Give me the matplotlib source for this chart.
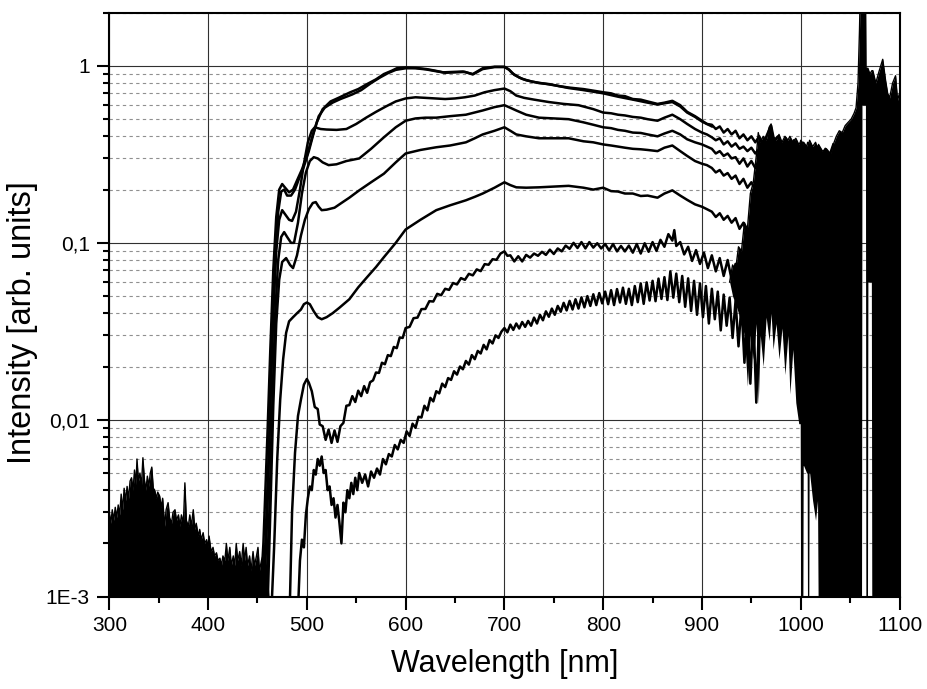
import matplotlib
matplotlib.use("Agg")
import matplotlib.pyplot as plt
from matplotlib.ticker import FixedLocator, FixedFormatter, MultipleLocator, LogLocator, NullFormatter

plt.rcParams['font.family'] = ['Liberation Sans', 'DejaVu Sans']

# noise floor below ~460 nm (upper edge of the black band)
bg_wl = [300, 301.5, 303, 304.5, 306, 307.5, 309, 310.5, 312, 313.5, 315, 316.5, 318, 319.5, 321, 322.5,
         324, 325.5, 327, 328, 329.5, 331, 332.5, 334, 335.5, 337, 338.5, 340, 341.5, 343, 344.5, 346,
         347.5, 349, 351, 352.5, 354, 356, 357.5, 359.5, 361, 363, 364.5, 366.5, 368, 370, 371.5, 373,
         375, 376.5, 378, 380, 381.5, 383, 385, 386.5, 388, 390, 391.5, 393, 395, 396.5, 398.5, 400,
         401, 403, 405, 406.5, 408.5, 410, 412, 413.5, 415, 417, 418.5, 420, 422, 423.5, 425.5, 427,
         428.5, 430, 432, 433.5, 435.5, 437, 438.5, 440, 442, 443.5, 445.5, 447, 449, 450.5, 452, 454,
         455.5, 457, 459, 460.5, 462]
bg_top = [0.0030, 0.0026, 0.0031, 0.0027, 0.0032, 0.0028, 0.0033, 0.0029, 0.0038, 0.0031, 0.0041, 0.0035,
          0.0042, 0.0036, 0.0045, 0.0047, 0.0040, 0.0052, 0.0043, 0.0060, 0.0045, 0.0050, 0.0042, 0.0061,
          0.0046, 0.0040, 0.0048, 0.0042, 0.0050, 0.0054, 0.0041, 0.0040, 0.0036, 0.0039, 0.0037, 0.0032,
          0.0036, 0.0025, 0.0031, 0.0034, 0.0028, 0.0026, 0.0030, 0.0031, 0.0027, 0.0029, 0.0025, 0.0029,
          0.0026, 0.0044, 0.0027, 0.0025, 0.0029, 0.0025, 0.0031, 0.0024, 0.0026, 0.0022, 0.0024, 0.0021,
          0.0023, 0.0020, 0.0021, 0.0019, 0.0022, 0.0018, 0.0019, 0.0017, 0.00177, 0.0016, 0.00165, 0.0015,
          0.0017, 0.0016, 0.0020, 0.0016, 0.0019, 0.0015, 0.0017, 0.0015, 0.0020, 0.0016, 0.0018, 0.0015,
          0.0020, 0.0016, 0.0019, 0.0015, 0.0017, 0.0014, 0.0018, 0.0015, 0.0017, 0.0019, 0.0014, 0.0016,
          0.0017, 0.0013, 0.0015, 0.0012, 0.0009]

# noisy region above ~930 nm (top and bottom edges of the black band)
band_wl = [928, 931, 934, 937, 940, 943, 946, 949, 952, 955, 957, 959, 962, 965, 968, 970, 972, 975, 978,
           981, 984, 987, 989, 992, 995, 998, 999.5, 1000, 1002, 1002.5, 1003, 1006, 1006.5, 1007, 1008,
           1008.5, 1009, 1012, 1015, 1017, 1018, 1022, 1026, 1030, 1033, 1036, 1039, 1042, 1045, 1048, 1051,
           1054, 1056, 1058, 1059.5, 1060.5, 1061.5, 1062, 1065.5, 1066, 1067.5, 1068, 1070, 1071.5, 1072,
           1073, 1076, 1079, 1083, 1086, 1088, 1090, 1093, 1096, 1098, 1100]
band_top = [0.06, 0.075, 0.07, 0.095, 0.09, 0.13, 0.12, 0.19, 0.22, 0.31, 0.42, 0.37, 0.40, 0.38, 0.45,
            0.47, 0.40, 0.38, 0.41, 0.37, 0.40, 0.38, 0.40, 0.37, 0.39, 0.36, 0.37, 0.38, 0.36, 0.37, 0.37,
            0.35, 0.36, 0.37, 0.36, 0.37, 0.38, 0.35, 0.37, 0.34, 0.36, 0.33, 0.34, 0.32, 0.36, 0.40, 0.43,
            0.42, 0.46, 0.48, 0.50, 0.54, 0.58, 0.80, 1.6, 3.0, 3.0, 3.0, 3.0, 0.97, 0.97, 0.97, 0.90, 0.93,
            0.94, 0.94, 0.80, 0.92, 1.09, 0.82, 0.70, 0.66, 0.80, 0.88, 0.64, 0.70]
band_bot = [0.06, 0.05, 0.045, 0.04, 0.035, 0.030, 0.0155, 0.030, 0.022, 0.035, 0.0123, 0.030, 0.020,
            0.038, 0.028, 0.040, 0.025, 0.035, 0.022, 0.033, 0.018, 0.030, 0.0140, 0.025, 0.0125, 0.0095,
            0.0095, 0.0004, 0.0004, 0.0055, 0.0055, 0.0050, 0.0050, 0.0004, 0.0004, 0.0050, 0.0050, 0.0035,
            0.0027, 0.0035, 0.0004, 0.0004, 0.0004, 0.0004, 0.0004, 0.0004, 0.0004, 0.0004, 0.0004, 0.0004,
            0.0004, 0.0004, 0.0004, 0.0004, 0.0004, 0.0004, 0.0004, 0.60, 0.60, 0.0004, 0.0004, 0.06, 0.06,
            0.06, 0.0004, 0.0004, 0.0004, 0.0004, 0.0004, 0.0004, 0.0004, 0.0004, 0.0004, 0.0004, 0.0004,
            0.0004]

# spectra, top to bottom
a_wl = [452, 456, 460, 463, 466, 469, 472, 475, 478, 482, 486, 490, 495, 500, 505, 510, 516, 524, 532, 544,
        552, 561, 570, 578, 586, 591, 600, 610, 621, 630, 638, 648, 658, 668, 678, 690, 700, 704, 708, 715,
        722, 735, 745, 755, 765, 780, 790, 800, 808, 815, 822, 830, 838, 845, 855, 862, 870, 878, 885, 893,
        900, 905, 910, 914, 918, 922, 926, 930, 934, 938, 942, 946, 950, 954, 958, 962, 966, 970, 973, 977,
        981, 985, 989, 993, 997, 1001, 1005, 1009, 1013, 1017, 1021, 1025, 1029, 1033]
a_val = [0.0008, 0.002, 0.008, 0.025, 0.07, 0.14, 0.20, 0.215, 0.205, 0.193, 0.20, 0.225, 0.26, 0.31, 0.39,
         0.48, 0.57, 0.63, 0.66, 0.71, 0.74, 0.79, 0.84, 0.90, 0.94, 0.97, 0.98, 0.975, 0.96, 0.94, 0.92,
         0.925, 0.93, 0.90, 0.97, 0.99, 0.99, 0.96, 0.91, 0.86, 0.83, 0.80, 0.79, 0.77, 0.755, 0.74, 0.725,
         0.71, 0.70, 0.68, 0.675, 0.65, 0.645, 0.63, 0.61, 0.62, 0.635, 0.60, 0.55, 0.52, 0.49, 0.47, 0.465,
         0.44, 0.455, 0.42, 0.44, 0.41, 0.43, 0.39, 0.41, 0.38, 0.40, 0.37, 0.40, 0.36, 0.41, 0.46, 0.38,
         0.40, 0.35, 0.39, 0.34, 0.38, 0.33, 0.37, 0.32, 0.36, 0.31, 0.35, 0.30, 0.34, 0.31, 0.36]

b_wl = [454, 458, 462, 465, 468, 471, 474, 477, 480, 484, 488, 492, 497, 502, 507, 512, 518, 526, 534, 546,
        555, 565, 574, 582, 590, 600, 610, 621, 630, 640, 650, 660, 668, 678, 690, 700, 705, 710, 718, 728,
        740, 752, 765, 780, 800, 815, 830, 845, 855, 862, 870, 878, 885, 893, 900, 910]
b_val = [0.0008, 0.002, 0.008, 0.03, 0.08, 0.15, 0.195, 0.20, 0.185, 0.185, 0.20, 0.23, 0.27, 0.33, 0.42,
         0.52, 0.58, 0.62, 0.65, 0.69, 0.73, 0.80, 0.86, 0.91, 0.95, 0.97, 0.97, 0.955, 0.935, 0.915, 0.92,
         0.925, 0.895, 0.96, 0.985, 0.985, 0.95, 0.89, 0.845, 0.815, 0.795, 0.775, 0.75, 0.73, 0.70, 0.67,
         0.645, 0.62, 0.605, 0.615, 0.625, 0.59, 0.545, 0.515, 0.485, 0.455]

c_wl = [456, 460, 463, 466, 469, 472, 475, 478, 482, 485, 489, 493, 497, 501, 505, 508, 514, 520, 530, 540,
        550, 560, 570, 580, 590, 600, 610, 620, 630, 640, 650, 660, 670, 680, 690, 700, 706, 712, 720, 730,
        745, 760, 775, 790, 800, 808, 815, 822, 830, 838, 845, 855, 862, 870, 878, 885, 893, 900, 905, 910,
        914, 918, 922, 926, 930, 934, 938, 942, 946, 950, 954, 958, 962, 966, 970, 974, 978, 982, 986, 990,
        994, 998, 1002]
c_val = [0.0008, 0.003, 0.012, 0.04, 0.09, 0.135, 0.153, 0.145, 0.135, 0.133, 0.15, 0.20, 0.28, 0.37, 0.43,
         0.45, 0.44, 0.437, 0.435, 0.44, 0.47, 0.51, 0.55, 0.59, 0.63, 0.655, 0.665, 0.66, 0.655, 0.65,
         0.655, 0.665, 0.68, 0.71, 0.73, 0.745, 0.72, 0.68, 0.66, 0.645, 0.625, 0.61, 0.60, 0.57, 0.545,
         0.54, 0.53, 0.525, 0.515, 0.51, 0.50, 0.49, 0.51, 0.53, 0.50, 0.47, 0.44, 0.42, 0.41, 0.395, 0.38,
         0.39, 0.36, 0.375, 0.35, 0.365, 0.34, 0.35, 0.33, 0.345, 0.32, 0.34, 0.30, 0.33, 0.29, 0.32, 0.28,
         0.31, 0.27, 0.30, 0.26, 0.29, 0.25]

d_wl = [458, 462, 465, 468, 471, 474, 477, 480, 484, 487, 491, 495, 499, 503, 507, 511, 516, 522, 530, 540,
        553, 565, 578, 590, 600, 610, 620, 631, 645, 661, 678, 690, 700, 706, 712, 722, 735, 750, 765, 780,
        790, 800, 808, 815, 822, 830, 838, 845, 855, 862, 870, 878, 885, 893, 900, 905, 910, 914, 918, 922,
        926, 930, 934, 938, 942, 946, 950, 954, 958, 962, 966, 970, 974, 978, 982, 986, 990, 994, 998]
d_val = [0.0008, 0.003, 0.012, 0.04, 0.08, 0.108, 0.115, 0.108, 0.10, 0.10, 0.13, 0.19, 0.25, 0.29, 0.305,
         0.30, 0.285, 0.275, 0.278, 0.29, 0.30, 0.34, 0.395, 0.45, 0.49, 0.505, 0.51, 0.51, 0.52, 0.53,
         0.56, 0.585, 0.60, 0.58, 0.56, 0.53, 0.51, 0.505, 0.50, 0.48, 0.465, 0.45, 0.445, 0.435, 0.43,
         0.42, 0.418, 0.41, 0.40, 0.415, 0.43, 0.41, 0.385, 0.37, 0.36, 0.35, 0.34, 0.32, 0.33, 0.31, 0.32,
         0.30, 0.305, 0.28, 0.30, 0.27, 0.29, 0.265, 0.28, 0.25, 0.27, 0.235, 0.26, 0.225, 0.25, 0.21, 0.24,
         0.20, 0.23]

e_wl = [460, 463, 466, 469, 472, 475, 479, 483, 486, 490, 494, 498, 502, 506, 509, 512, 515, 520, 528, 535,
        543, 553, 565, 578, 590, 600, 615, 631, 645, 661, 670, 678, 690, 700, 706, 712, 722, 735, 750, 765,
        780, 790, 800, 808, 815, 822, 830, 838, 845, 855, 862, 870, 878, 885, 893, 900, 905, 910, 914, 918,
        922, 926, 930, 934, 938, 942, 946, 950, 954, 958, 962, 966, 970, 974, 978, 982, 986, 990, 994, 998]
e_val = [0.0008, 0.003, 0.012, 0.035, 0.062, 0.078, 0.082, 0.075, 0.072, 0.085, 0.11, 0.135, 0.155, 0.168,
         0.17, 0.16, 0.153, 0.154, 0.158, 0.168, 0.18, 0.198, 0.22, 0.246, 0.285, 0.32, 0.335, 0.347, 0.355,
         0.37, 0.39, 0.41, 0.43, 0.45, 0.43, 0.41, 0.40, 0.39, 0.39, 0.39, 0.375, 0.37, 0.36, 0.355, 0.35,
         0.345, 0.34, 0.338, 0.335, 0.33, 0.345, 0.355, 0.33, 0.31, 0.29, 0.28, 0.275, 0.265, 0.25, 0.258,
         0.24, 0.248, 0.23, 0.24, 0.215, 0.23, 0.205, 0.22, 0.20, 0.215, 0.185, 0.21, 0.17, 0.20, 0.16,
         0.19, 0.15, 0.18, 0.14, 0.17]

f_wl = [464, 467, 470, 473, 476, 479, 482, 486, 490, 494, 497, 500, 503, 507, 511, 515, 520, 526, 533, 543,
        552, 561, 570, 578, 590, 600, 615, 631, 645, 661, 670, 678, 690, 700, 706, 712, 722, 735, 750, 765,
        780, 790, 800, 808, 815, 822, 830, 838, 845, 855, 862, 870, 878, 885, 893, 900, 905, 910, 914, 918,
        922, 926, 930, 934, 938, 942, 946, 950, 954, 958, 962, 966, 970, 974, 978, 982, 986, 990]
f_val = [0.0008, 0.002, 0.006, 0.013, 0.022, 0.031, 0.036, 0.038, 0.040, 0.042, 0.045, 0.046, 0.045, 0.041,
         0.038, 0.037, 0.038, 0.040, 0.043, 0.048, 0.056, 0.064, 0.073, 0.083, 0.10, 0.119, 0.135, 0.153,
         0.163, 0.174, 0.182, 0.19, 0.205, 0.22, 0.212, 0.206, 0.205, 0.206, 0.208, 0.21, 0.205, 0.20,
         0.205, 0.196, 0.195, 0.19, 0.19, 0.184, 0.185, 0.18, 0.19, 0.198, 0.185, 0.175, 0.165, 0.16, 0.155,
         0.15, 0.14, 0.147, 0.135, 0.142, 0.13, 0.138, 0.12, 0.13, 0.11, 0.125, 0.10, 0.115, 0.095, 0.11,
         0.085, 0.105, 0.08, 0.10, 0.07, 0.09]

g_wl = [482, 485, 488, 491, 494, 497, 500, 502, 505, 508, 511, 513, 516, 519, 522, 525, 528, 531, 534, 537,
        540, 543, 546, 549, 552, 555, 558, 561, 564, 567, 570, 573, 576, 579, 582, 585, 588, 591, 594, 597,
        600, 604, 608, 612, 616, 620, 624, 628, 632, 636, 640, 644, 648, 652, 656, 660, 664, 668, 672, 676,
        680, 684, 688, 692, 696, 700, 703, 706, 710, 714, 718, 722, 726, 730, 734, 738, 742, 746, 750, 754,
        758, 762, 766, 770, 774, 778, 782, 786, 790, 794, 798, 802, 806, 810, 814, 818, 822, 826, 830, 834,
        838, 842, 846, 850, 854, 858, 862, 866, 870, 872, 874, 878, 882, 886, 890, 894, 898, 902, 906, 910,
        914, 918, 922, 926, 930, 934, 938, 942, 946, 950]
g_val = [0.0006, 0.003, 0.0065, 0.0105, 0.013, 0.0158, 0.0170, 0.0162, 0.0145, 0.0118, 0.0115, 0.0094,
         0.0092, 0.0077, 0.0088, 0.0074, 0.0087, 0.0075, 0.0092, 0.0096, 0.0120, 0.0121, 0.0136, 0.0126,
         0.0146, 0.0136, 0.0155, 0.0142, 0.0163, 0.0167, 0.0185, 0.0184, 0.0210, 0.0206, 0.0232, 0.0229,
         0.0258, 0.0254, 0.0292, 0.0290, 0.0330, 0.0335, 0.0375, 0.0378, 0.0422, 0.0423, 0.0468, 0.0466,
         0.0515, 0.0506, 0.0550, 0.0542, 0.0593, 0.0582, 0.0632, 0.0618, 0.0668, 0.0655, 0.0708, 0.0692,
         0.0758, 0.0752, 0.0808, 0.0802, 0.0870, 0.0895, 0.0845, 0.0850, 0.0785, 0.0840, 0.0785, 0.0855,
         0.0825, 0.0870, 0.0845, 0.0890, 0.0855, 0.0915, 0.0865, 0.0930, 0.0895, 0.0965, 0.0925, 0.1000,
         0.0935, 0.1010, 0.0930, 0.1010, 0.0940, 0.0995, 0.0930, 0.0985, 0.0905, 0.0985, 0.0895, 0.0960,
         0.0895, 0.0965, 0.0880, 0.0985, 0.0870, 0.0995, 0.0890, 0.1010, 0.0900, 0.1040, 0.0950, 0.1120,
         0.1030, 0.1180, 0.0960, 0.1010, 0.0860, 0.0950, 0.0790, 0.0910, 0.0760, 0.0880, 0.0720, 0.0850,
         0.0690, 0.0820, 0.0650, 0.0800, 0.0620, 0.0760, 0.0540, 0.0740, 0.0480, 0.0700]

h_wl = [490, 493, 495, 497, 499, 501, 503, 505, 507, 509, 511, 513, 515, 517, 519, 521, 523, 525, 527, 529,
        531, 533, 535, 537, 539, 541, 543, 545, 547, 549, 551, 553, 556, 559, 562, 565, 568, 571, 574, 577,
        580, 583, 586, 589, 592, 595, 598, 601, 604, 607, 610, 613, 616, 619, 622, 625, 628, 631, 634, 637,
        640, 643, 646, 649, 652, 655, 658, 661, 664, 667, 670, 673, 676, 679, 682, 685, 688, 691, 694, 697,
        700, 703, 706, 709, 712, 715, 718, 721, 724, 727, 730, 733, 736, 739, 742, 745, 748, 751, 754, 757,
        760, 763, 766, 769, 772, 775, 778, 781, 784, 787, 790, 793, 796, 799, 802, 805, 808, 811, 814, 817,
        820, 823, 826, 829, 832, 835, 838, 841, 844, 847, 850, 853, 856, 859, 862, 865, 868, 871, 874, 877,
        880, 883, 886, 889, 892, 895, 898, 901, 904, 907, 910, 913, 916, 919, 922, 925, 928, 931, 934, 937,
        940, 943, 946, 949, 952, 955, 958]
h_val = [0.0006, 0.0016, 0.0021, 0.0019, 0.0029, 0.0036, 0.0042, 0.0040, 0.0052, 0.0049, 0.0060, 0.0055,
         0.0062, 0.0050, 0.0052, 0.0040, 0.0042, 0.0033, 0.0036, 0.0028, 0.0033, 0.0026, 0.0020, 0.0034,
         0.0030, 0.0040, 0.0036, 0.0044, 0.0038, 0.0047, 0.0040, 0.0050, 0.0044, 0.0049, 0.0042, 0.0051,
         0.0047, 0.0053, 0.0049, 0.0060, 0.0056, 0.0064, 0.0062, 0.0072, 0.0068, 0.0077, 0.0074, 0.0086,
         0.0081, 0.0095, 0.0090, 0.0104, 0.0103, 0.0120, 0.0113, 0.0133, 0.0127, 0.0145, 0.0141, 0.0160,
         0.0153, 0.0172, 0.0168, 0.0188, 0.0180, 0.0200, 0.0193, 0.0215, 0.0205, 0.0232, 0.0220, 0.0245,
         0.0237, 0.0265, 0.0250, 0.0282, 0.0270, 0.0300, 0.0290, 0.0315, 0.0330, 0.0312, 0.0345, 0.0322,
         0.0350, 0.0328, 0.0357, 0.0335, 0.0362, 0.0340, 0.0378, 0.0350, 0.0392, 0.0365, 0.0410, 0.0382,
         0.0425, 0.0392, 0.0440, 0.0408, 0.0458, 0.0415, 0.0470, 0.0420, 0.0480, 0.0425, 0.0492, 0.0432,
         0.0500, 0.0440, 0.0512, 0.0445, 0.0520, 0.0455, 0.0530, 0.0450, 0.0540, 0.0445, 0.0548, 0.0460,
         0.0558, 0.0452, 0.0550, 0.0445, 0.0570, 0.0462, 0.0590, 0.0452, 0.0598, 0.0472, 0.0610, 0.0468,
         0.0628, 0.0482, 0.0640, 0.0475, 0.0690, 0.0490, 0.0670, 0.0462, 0.0650, 0.0435, 0.0630, 0.0412,
         0.0610, 0.0392, 0.0590, 0.0380, 0.0570, 0.0350, 0.0550, 0.0370, 0.0530, 0.0320, 0.0510, 0.0340,
         0.0490, 0.0290, 0.0470, 0.0260, 0.0450, 0.0210, 0.0430, 0.0160, 0.0410, 0.0125, 0.0390]

y_ticks = [0.001, 0.01, 0.1, 1]
y_labels = ['1E-3', '0,01', '0,1', '1']

fig = plt.figure(figsize=(9.28, 6.89), dpi=100)
ax = fig.add_axes([0.1178, 0.134, 0.8515, 0.8476])

ax.fill_between(bg_wl, 1e-4, bg_top, color='black', lw=0, zorder=3)
ax.plot(bg_wl, bg_top, color='black', lw=1.0, zorder=3)
ax.fill_between(band_wl, band_bot, band_top, color='black', lw=0, zorder=3)
ax.plot(band_wl, band_top, color='black', lw=1.0, zorder=3)

for wl, val in [(a_wl, a_val), (b_wl, b_val), (c_wl, c_val), (d_wl, d_val),
                (e_wl, e_val), (f_wl, f_val), (g_wl, g_val), (h_wl, h_val)]:
    ax.plot(wl, val, color='black', lw=1.8, zorder=4)

ax.set_yscale('log')
ax.set_xlim(300, 1100)
ax.set_ylim(0.001, 2)

ax.xaxis.set_major_locator(MultipleLocator(100))
ax.xaxis.set_minor_locator(MultipleLocator(50))
ax.yaxis.set_major_locator(FixedLocator(y_ticks))
ax.yaxis.set_major_formatter(FixedFormatter(y_labels))
ax.yaxis.set_minor_locator(LogLocator(base=10, subs=[2, 3, 4, 5, 6, 7, 8, 9]))
ax.yaxis.set_minor_formatter(NullFormatter())

ax.grid(True, which='major', axis='both', color='#303030', lw=0.8, zorder=1)
ax.grid(True, which='minor', axis='y', color='#909090', lw=0.8, ls=(0, (3, 3)), zorder=1)
ax.set_axisbelow(True)

ax.tick_params(which='major', direction='out', length=9, width=1.5, labelsize=15, pad=5)
ax.tick_params(which='minor', direction='out', length=4.5, width=1.5)
for s in ax.spines.values():
    s.set_linewidth(1.5)
    s.set_zorder(5)

ax.set_xlabel('Wavelength [nm]', fontsize=22, labelpad=10)
ax.set_ylabel('Intensity [arb. units]', fontsize=23.5)
ax.yaxis.set_label_coords(-0.090, 0.47)

fig.savefig('out.png', dpi=100)
